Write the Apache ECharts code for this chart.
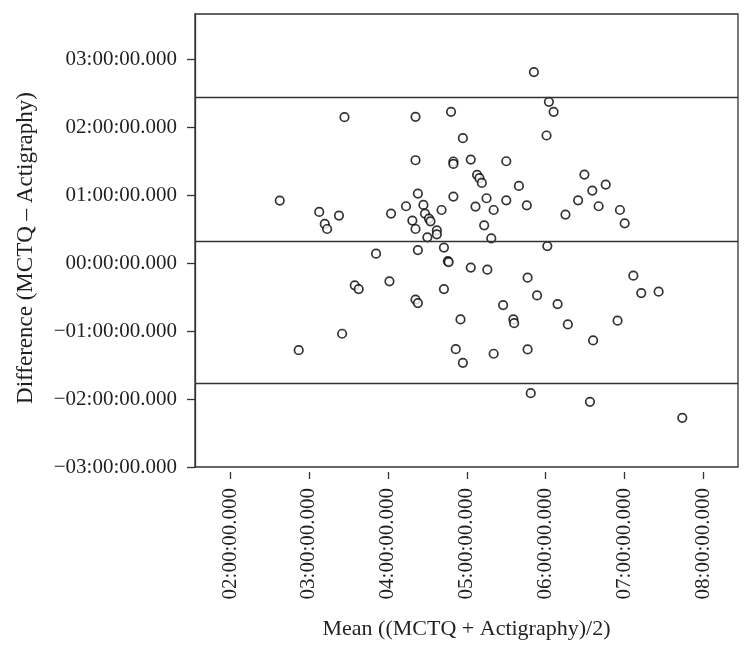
<!DOCTYPE html>
<html>
<head>
<meta charset="utf-8">
<script src="https://cdn.jsdelivr.net/npm/echarts@6/dist/echarts.min.js"></script>
<style>
  html, body { margin: 0; padding: 0; background: #fff; }
  #main { width: 752px; height: 655px; }
</style>
</head>
<body>
<div id="main"></div>
<script>
// mean of the two methods (hours)
var meanHours = [
  2.63, 3.13, 3.20, 3.23, 3.38, 3.45, 3.85, 3.58, 3.63, 3.42, 2.87,
  5.85, 6.04, 6.10, 6.01, 4.35, 4.80, 4.95, 4.35, 4.83, 4.83, 5.05,
  5.50, 5.13, 5.16, 5.19, 5.66, 6.49, 6.59, 6.76, 4.38, 4.83, 5.25,
  5.50, 6.41, 4.23, 4.45, 5.11, 5.76, 6.67, 4.04, 4.68, 5.34, 6.94,
  4.47, 4.52, 4.54, 4.31, 4.35, 6.25, 7.00, 5.22, 4.62, 4.62, 4.50,
  5.31, 6.02, 4.38, 4.71, 4.76, 4.77, 5.05, 5.26, 4.02, 4.71, 5.77,
  7.11, 5.89, 7.21, 7.43, 4.35, 4.38, 5.46, 6.15, 4.92, 5.59, 5.60,
  6.28, 6.91, 6.60, 4.86, 4.95, 5.34, 5.77, 5.81, 6.56, 7.73
];
// difference MCTQ - actigraphy (hours)
var diffHours = [
  0.925, 0.757, 0.580, 0.506, 0.704, 2.153, 0.143, -0.324, -0.379, -1.037, -1.279,
  2.817, 2.379, 2.232, 1.883, 2.158, 2.232, 1.844, 1.519, 1.500, 1.465, 1.529,
  1.504, 1.302, 1.254, 1.184, 1.140, 1.308, 1.072, 1.161, 1.028, 0.984, 0.959,
  0.929, 0.929, 0.841, 0.860, 0.836, 0.855, 0.841, 0.733, 0.786, 0.786, 0.786,
  0.733, 0.659, 0.619, 0.630, 0.506, 0.718, 0.590, 0.560, 0.487, 0.428, 0.383,
  0.369, 0.255, 0.196, 0.232, 0.034, 0.019, -0.063, -0.093, -0.265, -0.379, -0.211,
  -0.181, -0.472, -0.438, -0.417, -0.535, -0.586, -0.615, -0.600, -0.826, -0.826, -0.881,
  -0.900, -0.845, -1.136, -1.264, -1.465, -1.332, -1.268, -1.913, -2.040, -2.276
];
// bias and limits of agreement
var refLines = [2.438, 0.324, -1.760];

var xTicks = [2, 3, 4, 5, 6, 7, 8];
var yTicks = [-3, -2, -1, 0, 1, 2, 3];

function pad2(n) {
    return (n < 10 ? '0' : '') + n;
};
// hours -> "HH:00:00.000"
function fmtTime(v) {
    var sign = v < 0 ? '\u2212' : '';
    var h = Math.abs(Math.round(v));
    return sign + pad2(h) + ':00:00.000';
};

var points = [];
for (var i = 0; i < meanHours.length; i++) {
    points.push([meanHours[i], diffHours[i]]);
};

var txt = '#231f20';
var font = 'Liberation Serif';

var mychart = echarts.init(document.getElementById('main'));
var option = {
    animation: false,
    grid: {
        left: 195,
        top: 14,
        right: 14,
        bottom: 188,
        show: true,
        borderColor: '#333',
        borderWidth: 1.3,
        containLabel: false
    },
    xAxis: {
        type: 'value',
        min: 1.556,
        max: 8.436,
        offset: 5,
        name: 'Mean ((MCTQ + Actigraphy)/2)',
        nameLocation: 'middle',
        nameGap: 146,
        nameTextStyle: { fontFamily: font, fontSize: 22, color: txt },
        axisLine: { show: false, onZero: false },
        axisTick: {
            show: true,
            length: 7,
            customValues: xTicks,
            lineStyle: { color: '#333', width: 1.3 }
        },
        axisLabel: {
            rotate: 90,
            margin: 16,
            customValues: xTicks,
            fontFamily: font,
            fontSize: 21,
            color: txt,
            formatter: fmtTime
        },
        splitLine: { show: false }
    },
    yAxis: {
        type: 'value',
        min: -3,
        max: 3.673,
        name: 'Difference (MCTQ \u2013 Actigraphy)',
        nameLocation: 'middle',
        nameGap: 158,
        nameTextStyle: { fontFamily: font, fontSize: 23, color: txt, padding: [0, 15, 0, 0] },
        axisLine: { show: true, onZero: false, lineStyle: { color: '#333', width: 1.3 } },
        axisTick: {
            show: true,
            length: 8,
            customValues: yTicks,
            lineStyle: { color: '#333', width: 1.3 }
        },
        axisLabel: {
            margin: 18,
            customValues: yTicks,
            fontFamily: font,
            fontSize: 21,
            color: txt,
            formatter: fmtTime
        },
        splitLine: { show: false }
    },
    series: [{
        type: 'scatter',
        data: points,
        symbol: 'circle',
        symbolSize: 8.5,
        itemStyle: {
            color: '#fff',
            borderColor: '#000',
            borderWidth: 1.7
        },
        markLine: {
            silent: true,
            symbol: 'none',
            label: { show: false },
            lineStyle: { color: '#333', width: 1.3, type: 'solid' },
            data: refLines.map(function (v) { return { yAxis: v }; })
        }
    }]
};
mychart.setOption(option);
</script>
</body>
</html>
